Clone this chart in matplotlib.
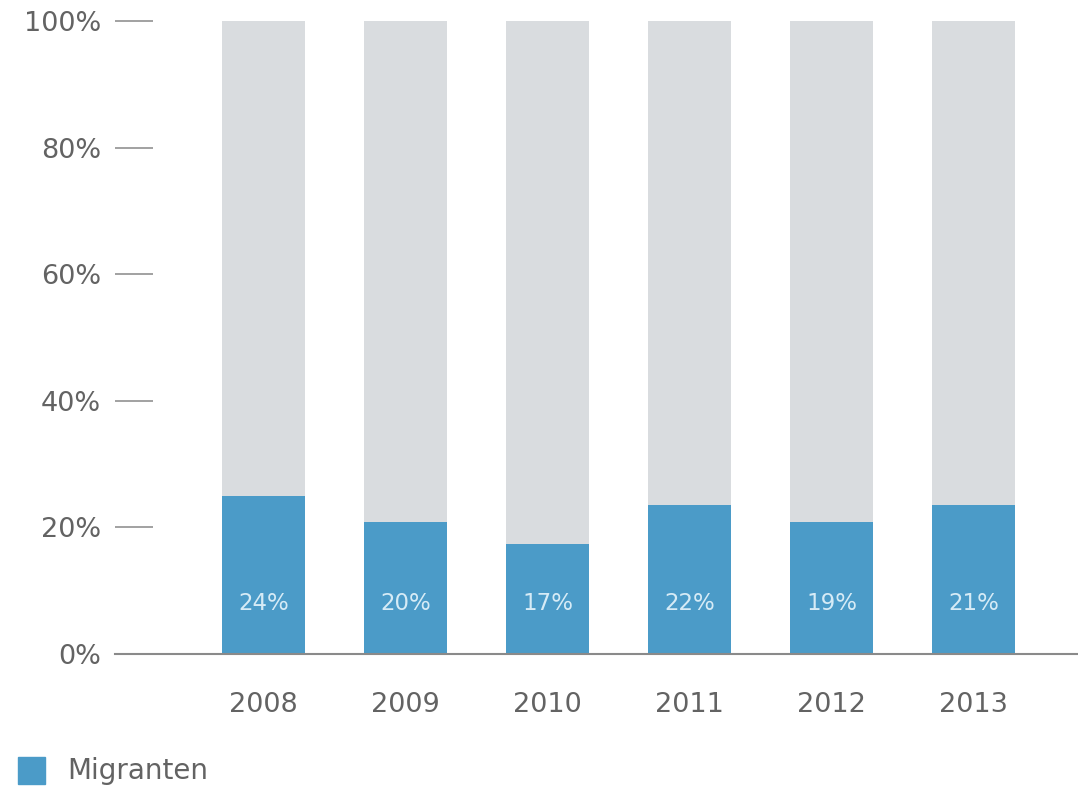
import matplotlib
matplotlib.use("Agg")
import matplotlib.pyplot as plt
from matplotlib.patches import Rectangle
import matplotlib.transforms as mtransforms

plt.rcParams['font.family'] = ['DejaVu Sans']

years = ["2008", "2009", "2010", "2011", "2012", "2013"]
migranten = [24.9, 20.9, 17.4, 23.5, 20.9, 23.5]
bar_labels = ["24%", "20%", "17%", "22%", "19%", "21%"]
total = [100, 100, 100, 100, 100, 100]
yticks = [0, 20, 40, 60, 80, 100]
ytick_labels = ["0%", "20%", "40%", "60%", "80%", "100%"]

blue = "#4b9bc8"
grey = "#d9dcdf"
text_col = "#636363"

W, H = 1078, 789
fig = plt.figure(figsize=(W / 100, H / 100), dpi=100)
ax = fig.add_axes([115 / W, 1 - 654 / H, (W - 115) / W, (654 - 21) / H])

x = list(range(len(years)))
width = 0.585
ax.bar(x, total, width=width, color=grey, zorder=1)
ax.bar(x, migranten, width=width, color=blue, zorder=2)

trans = mtransforms.blended_transform_factory(ax.transData, ax.transAxes)
for xi, lab in zip(x, bar_labels):
    ax.text(xi, 0.08, lab, transform=trans, ha='center', va='center',
            color='#d6ebf6', fontsize=16.5, zorder=3)

ax.set_xlim(-1.045, 5.735)
ax.set_ylim(0, 100)

for s in ['top', 'right', 'left']:
    ax.spines[s].set_visible(False)
ax.spines['bottom'].set_color('#8a8a8a')
ax.spines['bottom'].set_linewidth(1.5)

ax.set_yticks(yticks)
ax.set_yticklabels(ytick_labels)
ax.tick_params(axis='y', direction='in', length=27.5, width=1.3, color='#9a9a9a',
               pad=10, labelsize=19.5, labelcolor=text_col)
ax.set_xticks(x)
ax.set_xticklabels(years)
ax.tick_params(axis='x', length=0, pad=27, labelsize=19.5, labelcolor=text_col)

# legend
fig.patches.append(Rectangle((18 / W, 1 - 784 / H), 27 / W, 27 / H,
                             transform=fig.transFigure, color=blue))
fig.text(67 / W, 1 - 771 / H, "Migranten", ha='left', va='center',
         fontsize=20, color=text_col)

fig.savefig("out.png", dpi=100, facecolor='white')
